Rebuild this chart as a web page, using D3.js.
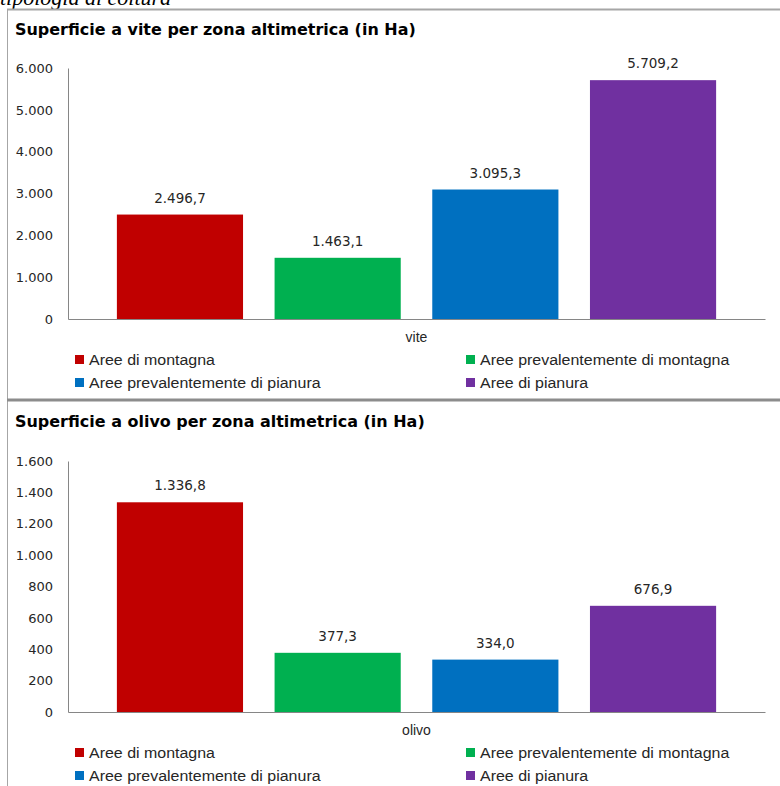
<!DOCTYPE html>
<html>
<head>
<meta charset="utf-8">
<script src="https://cdn.jsdelivr.net/npm/d3@7"></script>
<style>
  html, body { margin: 0; padding: 0; background: #ffffff; }
  svg { display: block; }
</style>
</head>
<body>
<svg id="chart" width="780" height="786"></svg>
<script>
// ---------------- DATA ----------------
const series = ["Aree di montagna", "Aree prevalentemente di montagna", "Aree prevalentemente di pianura", "Aree di pianura"];
const seriesColors = ["#C00000", "#00B050", "#0070C0", "#7030A0"];

const viteCategory = ["vite"];
const viteValues = [2496.7, 1463.1, 3095.3, 5709.2];
const viteTicks = [0, 1000, 2000, 3000, 4000, 5000, 6000];

const olivoCategory = ["olivo"];
const olivoValues = [1336.8, 377.3, 334.0, 676.9];
const olivoTicks = [0, 200, 400, 600, 800, 1000, 1200, 1400, 1600];

const viteTitle = "Superficie a vite per zona altimetrica (in Ha)";
const olivoTitle = "Superficie a olivo per zona altimetrica (in Ha)";
const headerText = "tipologia di coltura";

// ---------------- SETUP ----------------
const it = d3.formatLocale({ decimal: ",", thousands: ".", grouping: [3], currency: ["€", ""] });
const fmtTick = it.format(",.0f");
const fmtVal = it.format(",.1f");

const svg = d3.select("#chart");
const AXIS = "#868686";
const TXT = "#262626";

// header (cut off at the top, as in the source page)
svg.append("text")
  .attr("x", 0).attr("y", 5)
  .attr("font-family", "Liberation Serif")
  .attr("font-style", "italic")
  .attr("font-size", 22)
  .attr("fill", "#000")
  .text(headerText);

// frames
svg.append("line").attr("x1", 7).attr("x2", 780).attr("y1", 9.5).attr("y2", 9.5)
  .attr("stroke", "#a6a6a6").attr("stroke-width", 2);
svg.append("line").attr("x1", 7.5).attr("x2", 7.5).attr("y1", 9).attr("y2", 786)
  .attr("stroke", "#a6a6a6").attr("stroke-width", 1);
svg.append("line").attr("x1", 7).attr("x2", 780).attr("y1", 400).attr("y2", 400)
  .attr("stroke", "#8c8c8c").attr("stroke-width", 3);

function stretch(sel, k) {
  sel.each(function () {
    const w = this.getComputedTextLength();
    d3.select(this).attr("textLength", w * k).attr("lengthAdjust", "spacingAndGlyphs");
  });
}

function drawChart(cfg) {
  const g = svg.append("g");
  const left = 68, right = 765;

  // title
  const t = g.append("text")
    .attr("x", 15).attr("y", cfg.titleY)
    .attr("font-family", "DejaVu Sans")
    .attr("font-weight", "bold")
    .attr("font-size", 15.5)
    .attr("fill", "#000")
    .text(cfg.title);
  stretch(t, 1.03);

  const y = d3.scaleLinear()
    .domain([0, d3.max(cfg.ticks)])
    .range([cfg.bottom, cfg.top]);

  const x0 = d3.scaleBand().domain(cfg.category).range([left, right]);
  const x1 = d3.scaleBand().domain(series)
    .range([0, x0.bandwidth()])
    .paddingInner(0.2).paddingOuter(0.31);

  // y axis
  const ya = g.append("g")
    .attr("transform", `translate(${left},0)`)
    .call(d3.axisLeft(y).tickValues(cfg.ticks).tickFormat(fmtTick).tickSize(0).tickPadding(15));
  ya.select(".domain").attr("stroke", AXIS);
  ya.selectAll("text")
    .attr("font-family", "DejaVu Sans").attr("font-size", 13).attr("fill", TXT);

  // bars
  const cat = cfg.category[0];
  g.append("g").selectAll("rect")
    .data(series.map((s, i) => ({ s, v: cfg.values[i], c: seriesColors[i] })))
    .join("rect")
    .attr("x", d => x0(cat) + x1(d.s))
    .attr("width", x1.bandwidth())
    .attr("y", d => y(d.v))
    .attr("height", d => y(0) - y(d.v))
    .attr("fill", d => d.c);

  // value labels
  g.append("g").selectAll("text")
    .data(series.map((s, i) => ({ s, v: cfg.values[i] })))
    .join("text")
    .attr("x", d => x0(cat) + x1(d.s) + x1.bandwidth() / 2)
    .attr("y", d => y(d.v) - 12)
    .attr("text-anchor", "middle")
    .attr("font-family", "DejaVu Sans").attr("font-size", 13.5).attr("fill", TXT)
    .text(d => fmtVal(d.v));

  // x axis
  const xa = g.append("g")
    .attr("transform", `translate(0,${cfg.bottom})`)
    .call(d3.axisBottom(x0).tickSize(0).tickSizeOuter(0).tickPadding(13));
  xa.select(".domain").attr("stroke", AXIS);
  xa.selectAll("text")
    .attr("font-family", "Liberation Sans").attr("font-size", 14).attr("fill", TXT);

  // legend
  const cols = [75, 466];
  const rows = [cfg.bottom + 41, cfg.bottom + 64];
  const lg = g.append("g");
  series.forEach((s, i) => {
    const cx = cols[i % 2], cy = rows[Math.floor(i / 2)];
    lg.append("rect").attr("x", cx).attr("y", cy - 5).attr("width", 9).attr("height", 9)
      .attr("fill", seriesColors[i]);
    const tx = lg.append("text").attr("x", cx + 14).attr("y", cy + 5)
      .attr("font-family", "Liberation Sans").attr("font-size", 14).attr("fill", TXT)
      .text(s);
    stretch(tx, 1.14);
  });
}

drawChart({ title: viteTitle, titleY: 35, category: viteCategory, values: viteValues,
  ticks: viteTicks, top: 68, bottom: 319 });
drawChart({ title: olivoTitle, titleY: 427, category: olivoCategory, values: olivoValues,
  ticks: olivoTicks, top: 461, bottom: 712 });
</script>
</body>
</html>
